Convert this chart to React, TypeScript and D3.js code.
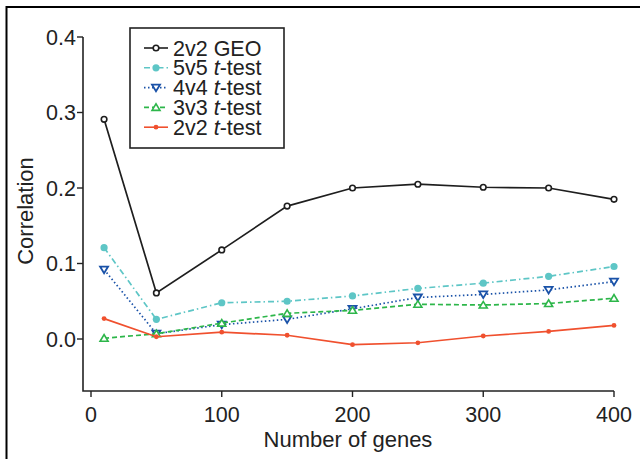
import React from "react";
import * as d3 from "d3";

const genes = [10, 50, 100, 150, 200, 250, 300, 350, 400];
const geo2v2 = [0.291, 0.061, 0.118, 0.176, 0.2, 0.205, 0.201, 0.2, 0.185];
const t5v5 = [0.121, 0.026, 0.048, 0.05, 0.057, 0.067, 0.074, 0.083, 0.096];
const t4v4 = [0.092, 0.007, 0.019, 0.026, 0.04, 0.055, 0.059, 0.065, 0.076];
const t3v3 = [0.001, 0.007, 0.021, 0.034, 0.038, 0.046, 0.045, 0.047, 0.054];
const t2v2 = [0.027, 0.003, 0.009, 0.005, -0.0075, -0.005, 0.004, 0.01, 0.018];
const xTicks = [0, 100, 200, 300, 400];
const yTicks = [0, 0.1, 0.2, 0.3, 0.4];

type S = { name: string; ital: boolean; values: number[]; color: string; dash: string; marker: string };
const seriesList: S[] = [
  { name: "2v2 GEO", ital: false, values: geo2v2, color: "#1e1e1e", dash: "", marker: "circleOpen" },
  { name: "5v5", ital: true, values: t5v5, color: "#5ec6c6", dash: "6,3,1.5,3", marker: "circleFilled" },
  { name: "4v4", ital: true, values: t4v4, color: "#1a52a8", dash: "1.5,2.5", marker: "triDown" },
  { name: "3v3", ital: true, values: t3v3, color: "#2db64a", dash: "5,3", marker: "triUp" },
  { name: "2v2", ital: true, values: t2v2, color: "#f0502e", dash: "", marker: "dot" },
];

const FONT = "'Liberation Sans', Arial, Helvetica, sans-serif";

function Marker({ type, x, y, color }: { type: string; x: number; y: number; color: string }) {
  if (type === "circleOpen")
    return <circle cx={x} cy={y} r={2.8} fill="#fff" stroke={color} strokeWidth={1.6} />;
  if (type === "circleFilled") return <circle cx={x} cy={y} r={3.6} fill={color} />;
  if (type === "dot") return <circle cx={x} cy={y} r={2.4} fill={color} />;
  if (type === "triDown") {
    const s = 4;
    return (
      <path d={`M${x - s},${y - s * 0.75}L${x + s},${y - s * 0.75}L${x},${y + s * 0.9}Z`} fill="#fff" stroke={color} strokeWidth={1.8} />
    );
  }
  const s = 4;
  return (
    <path d={`M${x - s},${y + s * 0.75}L${x + s},${y + s * 0.75}L${x},${y - s * 0.9}Z`} fill="#fff" stroke={color} strokeWidth={1.6} />
  );
}

export default function App() {
  const x = d3.scaleLinear().domain([0, 400]).range([91, 614]);
  const y = d3.scaleLinear().domain([0, 0.4]).range([339, 37]);
  const yBottom = 391;
  const xLeft = 83;
  const line = d3
    .line<number>()
    .x((_, i) => x(genes[i]))
    .y((d) => y(d));

  return (
    <svg width={640} height={459} style={{ position: "absolute", left: 0, top: 0, background: "#fff" }} fontFamily={FONT}>
      <rect x={6.5} y={7} width={700} height={600} fill="none" stroke="#000" strokeWidth={2} />
      {/* axes */}
      <path d={`M${xLeft},${y(0.4)}V${yBottom}H${x(400)}`} fill="none" stroke="#222" strokeWidth={1.6} />
      {yTicks.map((t) => (
        <g key={t}>
          <line x1={xLeft - 6} x2={xLeft} y1={y(t)} y2={y(t)} stroke="#222" strokeWidth={1.4} />
          <text x={xLeft - 7} y={y(t) + 7.5} textAnchor="end" fontSize={21.5} fill="#222">
            {d3.format(".1f")(t)}
          </text>
        </g>
      ))}
      {xTicks.map((t) => (
        <g key={t}>
          <line x1={x(t)} x2={x(t)} y1={yBottom} y2={yBottom + 6} stroke="#222" strokeWidth={1.4} />
          <text x={x(t)} y={yBottom + 31} textAnchor="middle" fontSize={21.5} fill="#222">
            {t}
          </text>
        </g>
      ))}
      <text x={348} y={447} textAnchor="middle" fontSize={22} fill="#222">
        Number of genes
      </text>
      <text transform={`translate(33,211) rotate(-90)`} textAnchor="middle" fontSize={22} fill="#222">
        Correlation
      </text>
      {/* series */}
      {seriesList.map((s) => (
        <g key={s.name + s.color}>
          <path d={line(s.values) || ""} fill="none" stroke={s.color} strokeWidth={1.7} strokeDasharray={s.dash} />
          {s.values.map((v, i) => (
            <Marker key={i} type={s.marker} x={x(genes[i])} y={y(v)} color={s.color} />
          ))}
        </g>
      ))}
      {/* legend */}
      <rect x={130} y={28} width={154} height={120} fill="#fff" stroke="#222" strokeWidth={1.6} />
      {seriesList.map((s, i) => {
        const ly = 48 + i * 19.8;
        return (
          <g key={"leg" + i}>
            <line x1={144} x2={168} y1={ly} y2={ly} stroke={s.color} strokeWidth={1.6} strokeDasharray={s.dash} />
            <Marker type={s.marker} x={156} y={ly} color={s.color} />
            <text x={173} y={ly + 7.5} fontSize={21.5} fill="#222">
              {s.ital ? (
                <>
                  {s.name + " "}
                  <tspan fontStyle="italic">t</tspan>-test
                </>
              ) : (
                s.name
              )}
            </text>
          </g>
        );
      })}
    </svg>
  );
}
